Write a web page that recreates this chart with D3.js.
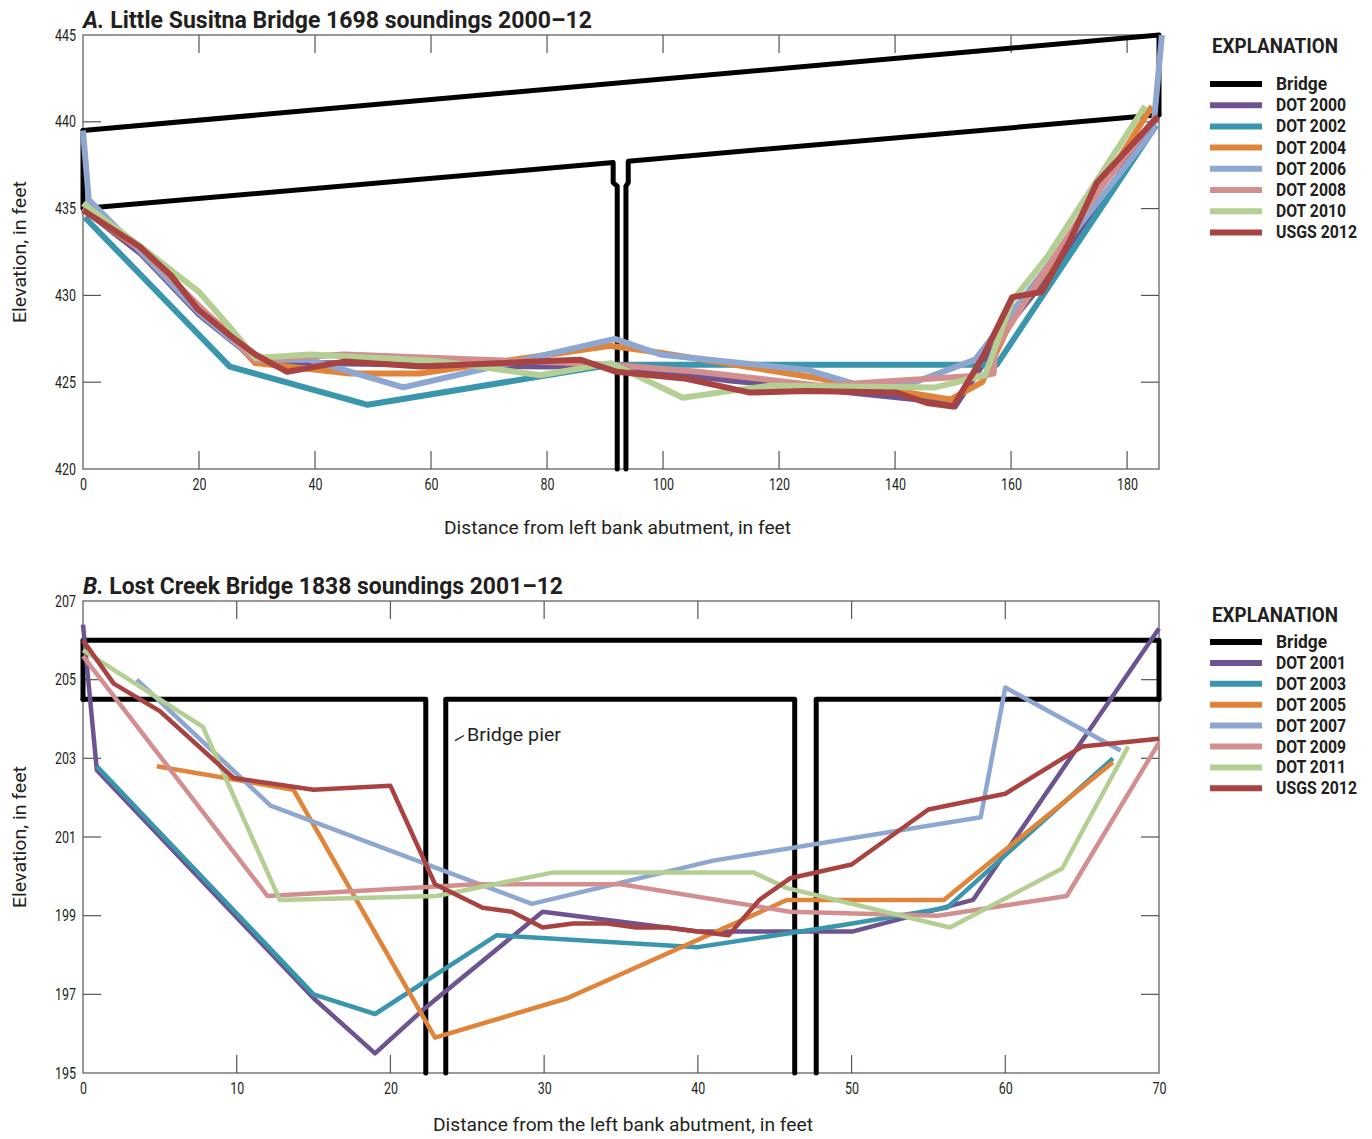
<!DOCTYPE html>
<html>
<head>
<meta charset="utf-8">
<script src="https://cdn.jsdelivr.net/npm/d3@7"></script>
<style>
  body { margin: 0; background: #fff; }
  svg text { font-family: Roboto, "Liberation Sans", sans-serif; fill: #231f20; }
</style>
</head>
<body>
<div id="chart"></div>
<script>
// ---- data ----
// panel A: Little Susitna Bridge 1698 (distance ft, elevation ft)
var aBridgeTop = [[0, 439.5], [185.5, 445], [185.5, 440.4]];
var aBridgeDeck = [[0, 439.5], [0, 435], [91.4, 437.65], [91.4, 436.5], [92.1, 436.3], [92.1, 420]];
var aBridgeDeck2 = [[93.6, 420], [93.6, 436.3], [94.0, 436.5], [94.0, 437.73], [185.5, 440.4]];
var a2000 = [[0,435],[10,432.4],[20,428.9],[29.7,426.3],[40,426.1],[60,426.0],[80,425.9],[91,426.0],[100,425.6],[111.6,425.1],[127,424.6],[147,423.9],[150.3,423.6],[160,428.5],[170,432.6],[185,440.2]];
var a2002 = [[0.3,434.5],[25.3,425.9],[49.1,423.7],[91,426.0],[157.5,426.0],[185,439.8]];
var a2004 = [[0,435],[10,432.6],[20,429.3],[23.6,428.3],[29.7,426.1],[46,425.5],[58,425.5],[90.9,427.1],[99.5,426.7],[149.5,424.0],[155,425],[160,428.5],[170,433.3],[184.3,440.9]];
var a2006 = [[0,439.5],[1,435.5],[10,432.5],[20,429],[29.7,426.3],[39,426.3],[55.2,424.7],[91.7,427.5],[99.5,426.6],[125,425.7],[134,424.8],[142.6,424.9],[153.8,426.3],[184.5,439.5],[186,445]];
var a2008 = [[0,435],[10,432.7],[20,429.4],[29.7,426.3],[45,426.6],[77,426.2],[91,426.0],[106,425.6],[127,424.8],[141,425.1],[155.5,425.4],[157,425.5],[157.2,426.9],[165,431],[175,436],[184.8,440.2]];
var a2010 = [[0,435.3],[10,432.8],[20,430.2],[25,428.3],[29.7,426.4],[39.1,426.6],[61.6,426.2],[78.8,425.4],[91,426.1],[103.4,424.1],[111.6,424.5],[118.4,424.8],[146.9,424.7],[155.5,425.4],[160.2,429.7],[166.2,432.2],[183.1,440.9]];
var a2012 = [[0,434.9],[9.8,432.8],[15.3,431.1],[19.8,429.2],[25.7,427.6],[29.7,426.6],[35.2,425.6],[45.2,426.2],[58.1,425.9],[78.8,426.2],[85.7,426.3],[92,425.6],[104,425.2],[115,424.4],[124.8,424.5],[140.3,424.4],[145.5,423.8],[150,423.6],[155.2,426.5],[160.2,429.9],[165.3,430.2],[170.2,433.2],[174.8,436.5],[185.3,440.3]];
var aNames = ["DOT 2000", "DOT 2002", "DOT 2004", "DOT 2006", "DOT 2008", "DOT 2010", "USGS 2012"];
var aXTicks = [0, 20, 40, 60, 80, 100, 120, 140, 160, 180];
var aYTicks = [420, 425, 430, 435, 440, 445];

// panel B: Lost Creek Bridge 1838
var bBridgeTop = [[0, 204.5], [0, 206], [70, 206], [70, 204.5]];
var bBridgeDeck1 = [[0, 204.5], [22.3, 204.5], [22.3, 195]];
var bBridgeDeck2 = [[23.6, 195], [23.6, 204.5], [46.3, 204.5], [46.3, 195]];
var bBridgeDeck3 = [[47.7, 195], [47.7, 204.5], [70, 204.5]];
var b2001 = [[0,206.4],[0.9,202.7],[15,196.9],[19,195.5],[22.1,196.6],[29.9,199.1],[40,198.6],[50.1,198.6],[57.9,199.4],[70,206.3]];
var b2003 = [[0.9,202.8],[15,197.0],[19,196.5],[26.9,198.5],[40,198.2],[49.25,198.75],[56.2,199.2],[67,203.0]];
var b2005 = [[4.8,202.8],[13.7,202.2],[22.9,195.9],[31.5,196.9],[45.8,199.4],[56,199.4],[67,202.9]];
var b2007 = [[3.5,205.0],[12.2,201.8],[29.2,199.3],[41,200.4],[58.4,201.5],[60,204.8],[67.5,203.2]];
var b2009 = [[0,205.6],[12,199.5],[25.6,199.8],[35,199.8],[46,199.1],[55.6,199.0],[64,199.5],[70,203.4]];
var b2011 = [[0,205.75],[7.8,203.8],[12.8,199.4],[23,199.5],[30.6,200.1],[43.6,200.1],[45.8,199.7],[56.4,198.7],[63.7,200.2],[68,203.3]];
var b2012 = [[0,206.0],[2,204.9],[5,204.2],[9.8,202.5],[15,202.2],[20,202.3],[22.9,199.8],[26,199.2],[27.9,199.1],[29.9,198.7],[31.9,198.8],[34.1,198.8],[36,198.7],[38,198.7],[40,198.6],[42,198.5],[44,199.4],[46,199.95],[50,200.3],[55,201.7],[60,202.1],[65,203.3],[70,203.5]];
var bNames = ["DOT 2001", "DOT 2003", "DOT 2005", "DOT 2007", "DOT 2009", "DOT 2011", "USGS 2012"];
var bXTicks = [0, 10, 20, 30, 40, 50, 60, 70];
var bYTicks = [195, 197, 199, 201, 203, 205, 207];

var colors = ["#6d5491", "#3996ad", "#e0843a", "#8ea7d0", "#d38f8f", "#b4cf94", "#a94341"];

var svg = d3.select("#chart").append("svg")
    .attr("width", 1372)
    .attr("height", 1139);

// squeeze text to the width it has in the reference (condensed face there)
function fit(sel, w) {
    sel.attr("textLength", w).attr("lengthAdjust", "spacingAndGlyphs");
}

function drawPanel(opt) {
    var x = d3.scaleLinear().domain(opt.xDomain).range([83, 1159]);
    var y = d3.scaleLinear().domain(opt.yDomain).range([opt.bottom, opt.top]);
    var g = svg.append("g");
    var line = d3.line().x(function(d) { return x(d[0]); }).y(function(d) { return y(d[1]); });

    // frame with inward ticks on all sides
    g.append("rect")
        .attr("x", 83).attr("y", opt.top)
        .attr("width", 1159 - 83).attr("height", opt.bottom - opt.top)
        .attr("fill", "none").attr("stroke", "#555").attr("stroke-width", 1.2);

    var ax = d3.axisBottom(x).tickValues(opt.xTicks).tickSize(0).tickPadding(10);
    g.append("g").attr("transform", "translate(0," + opt.bottom + ")").call(ax)
        .call(function(s) {
            s.select(".domain").remove();
            s.selectAll("text").attr("font-size", 16).each(function() {
                var t = d3.select(this);
                fit(t, t.text().length * 7);
            });
        });
    var ay = d3.axisLeft(y).tickValues(opt.yTicks).tickSize(0).tickPadding(7);
    g.append("g").attr("transform", "translate(83,0)").call(ay)
        .call(function(s) {
            s.select(".domain").remove();
            s.selectAll("text").attr("font-size", 16).each(function() {
                var t = d3.select(this);
                fit(t, t.text().length * 7);
            });
        });

    var tk = 18;
    opt.xTicks.forEach(function(v) {
        if (v === opt.xDomain[0]) return;
        if (Math.abs(x(v) - 1159) < 2) return;
        g.append("line").attr("x1", x(v)).attr("x2", x(v)).attr("y1", opt.top).attr("y2", opt.top + tk)
            .attr("stroke", "#555").attr("stroke-width", 1.2);
        g.append("line").attr("x1", x(v)).attr("x2", x(v)).attr("y1", opt.bottom).attr("y2", opt.bottom - tk)
            .attr("stroke", "#555").attr("stroke-width", 1.2);
    });
    opt.yTicks.forEach(function(v) {
        if (v === opt.yDomain[0] || v === opt.yDomain[1]) return;
        g.append("line").attr("x1", 83).attr("x2", 83 + tk).attr("y1", y(v)).attr("y2", y(v))
            .attr("stroke", "#555").attr("stroke-width", 1.2);
        g.append("line").attr("x1", 1159).attr("x2", 1159 - tk).attr("y1", y(v)).attr("y2", y(v))
            .attr("stroke", "#555").attr("stroke-width", 1.2);
    });

    // bridge outline
    opt.bridge.forEach(function(b) {
        g.append("path").attr("d", line(b))
            .attr("fill", "none").attr("stroke", "#000").attr("stroke-width", 5)
            .attr("stroke-linejoin", "round").attr("stroke-linecap", "round");
    });

    // soundings
    opt.series.forEach(function(s, i) {
        g.append("path").attr("d", line(s))
            .attr("fill", "none").attr("stroke", colors[i]).attr("stroke-width", opt.lw)
            .attr("stroke-linejoin", "round");
    });

    // titles
    var t = g.append("text").attr("x", 83).attr("y", opt.top - 7)
        .attr("font-size", 24).attr("font-weight", "bold");
    t.append("tspan").attr("font-style", "italic").text(opt.letter + ".");
    t.append("tspan").text(" " + opt.title);
    fit(t, opt.titleW);

    fit(g.append("text").attr("transform", "translate(26," + ((opt.top + opt.bottom) / 2) + ") rotate(-90)")
        .attr("text-anchor", "middle").attr("font-size", 19).text("Elevation, in feet"), 142);
    fit(g.append("text").attr("x", opt.xLabelX).attr("y", opt.xLabelY)
        .attr("font-size", 19).text(opt.xLabel), opt.xLabelW);

    // legend
    fit(g.append("text").attr("x", 1212).attr("y", opt.legTop)
        .attr("font-size", 21).attr("font-weight", "bold").text("EXPLANATION"), 126);
    var names = ["Bridge"].concat(opt.names);
    var cols = ["#000"].concat(colors);
    names.forEach(function(n, i) {
        var yy = opt.legFirst + i * opt.legStep;
        g.append("line").attr("x1", 1210).attr("x2", 1262).attr("y1", yy).attr("y2", yy)
            .attr("stroke", cols[i]).attr("stroke-width", 6);
        fit(g.append("text").attr("x", 1276).attr("y", yy + 6)
            .attr("font-size", 18).attr("font-weight", "bold").text(n),
            n === "Bridge" ? 51 : (n.indexOf("USGS") === 0 ? 81 : 70));
    });
    return { x: x, y: y, g: g };
}

drawPanel({
    letter: "A", title: "Little Susitna Bridge 1698 soundings 2000\u201312", titleW: 509,
    xDomain: [0, 185.5], yDomain: [420, 445], top: 35, bottom: 469,
    xTicks: aXTicks, yTicks: aYTicks,
    bridge: [aBridgeTop, aBridgeDeck, aBridgeDeck2],
    series: [a2000, a2002, a2004, a2006, a2008, a2010, a2012],
    names: aNames, lw: 6, legTop: 53, legFirst: 84, legStep: 21.2,
    xLabel: "Distance from left bank abutment, in feet", xLabelX: 444, xLabelY: 534, xLabelW: 347
});

var pB = drawPanel({
    letter: "B", title: "Lost Creek Bridge 1838 soundings 2001\u201312", titleW: 480,
    xDomain: [0, 70], yDomain: [195, 207], top: 601, bottom: 1073,
    xTicks: bXTicks, yTicks: bYTicks,
    bridge: [bBridgeTop, bBridgeDeck1, bBridgeDeck2, bBridgeDeck3],
    series: [b2001, b2003, b2005, b2007, b2009, b2011, b2012],
    names: bNames, lw: 4.5, legTop: 622, legFirst: 642, legStep: 20.9,
    xLabel: "Distance from the left bank abutment, in feet", xLabelX: 433, xLabelY: 1131, xLabelW: 380
});

// pier callout
pB.g.append("line").attr("x1", 455).attr("x2", 464)
    .attr("y1", pB.y(203.45)).attr("y2", pB.y(203.58))
    .attr("stroke", "#231f20").attr("stroke-width", 1.2);
fit(pB.g.append("text").attr("x", 467).attr("y", pB.y(203.62) + 7)
    .attr("font-size", 19).text("Bridge pier"), 94);
</script>
</body>
</html>
